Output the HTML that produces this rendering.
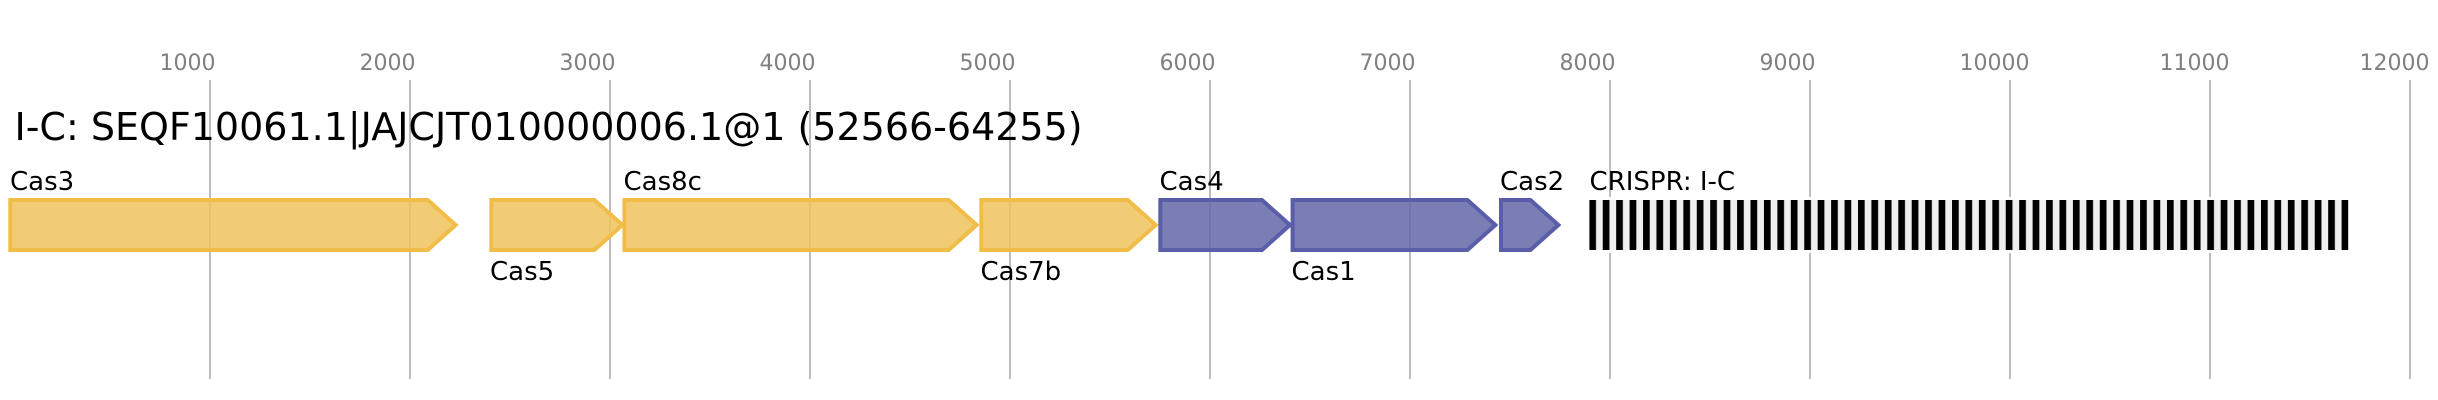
<!DOCTYPE html>
<html>
<head>
<meta charset="utf-8">
<style>
  html, body { margin: 0; padding: 0; background: #ffffff; }
  body { width: 2438px; height: 400px; overflow: hidden; }
  svg { display: block; }
  text { font-family: "DejaVu Sans", "Liberation Sans", sans-serif; }
</style>
</head>
<body>
<svg width="2438" height="400" viewBox="0 0 2438 400" xmlns="http://www.w3.org/2000/svg">
  <defs>
    <pattern id="crispr" patternUnits="userSpaceOnUse" x="1589.3" y="200" width="13.434" height="50">
      <rect x="0" y="0" width="13.434" height="50" fill="#efefef"/>
      <rect x="0" y="0" width="6.7" height="50" fill="#000000"/>
    </pattern>
  </defs>
  <rect x="0" y="0" width="2438" height="400" fill="#ffffff"/>

  <g stroke="#bdbdbd" stroke-width="2">
    <path d="M210 80V379M410 80V379M610 80V379M810 80V379M1010 80V379M1210 80V379M1410 80V379M1610 80V379M1810 80V379M2010 80V379M2210 80V379M2410 80V379"/>
  </g>

  <g font-size="22" fill="#808080">
    <text x="159.5" y="70">1000</text>
    <text x="359.5" y="70">2000</text>
    <text x="559.5" y="70">3000</text>
    <text x="759.5" y="70">4000</text>
    <text x="959.5" y="70">5000</text>
    <text x="1159.5" y="70">6000</text>
    <text x="1359.5" y="70">7000</text>
    <text x="1559.5" y="70">8000</text>
    <text x="1759.5" y="70">9000</text>
    <text x="1959.5" y="70">10000</text>
    <text x="2159.5" y="70">11000</text>
    <text x="2359.5" y="70">12000</text>
  </g>

  <text x="14.5" y="140" font-size="38" fill="#000000">I-C: SEQF10061.1|JAJCJT010000006.1@1 (52566-64255)</text>

  <g fill="#f0c35d" fill-opacity="0.85" stroke="#f0be48" stroke-width="4" stroke-linejoin="miter">
    <path d="M10.3 200 L427.7 200 L455.7 225 L427.7 250 L10.3 250 Z"/>
    <path d="M491.3 200 L594.4 200 L622.4 225 L594.4 250 L491.3 250 Z"/>
    <path d="M624.4 200 L948.7 200 L976.7 225 L948.7 250 L624.4 250 Z"/>
    <path d="M981.3 200 L1127.7 200 L1155.7 225 L1127.7 250 L981.3 250 Z"/>
  </g>
  <g fill="#6467a8" fill-opacity="0.85" stroke="#5a5ea8" stroke-width="4" stroke-linejoin="miter">
    <path d="M1160.3 200 L1262 200 L1290 225 L1262 250 L1160.3 250 Z"/>
    <path d="M1292.6 200 L1467.4 200 L1495.4 225 L1467.4 250 L1292.6 250 Z"/>
    <path d="M1501 200 L1530.4 200 L1558.4 225 L1530.4 250 L1501 250 Z"/>
  </g>

  <rect x="1589.3" y="197" width="759" height="56" fill="#ffffff"/>
  <rect x="1589.3" y="200" width="759" height="50" fill="url(#crispr)"/>

  <g font-size="26" fill="#000000">
    <text x="10" y="190">Cas3</text>
    <text x="490" y="280">Cas5</text>
    <text x="623.5" y="190">Cas8c</text>
    <text x="980.5" y="280">Cas7b</text>
    <text x="1159.5" y="190">Cas4</text>
    <text x="1291.5" y="280">Cas1</text>
    <text x="1500" y="190">Cas2</text>
    <text x="1589.5" y="190">CRISPR: I-C</text>
  </g>
</svg>
</body>
</html>
